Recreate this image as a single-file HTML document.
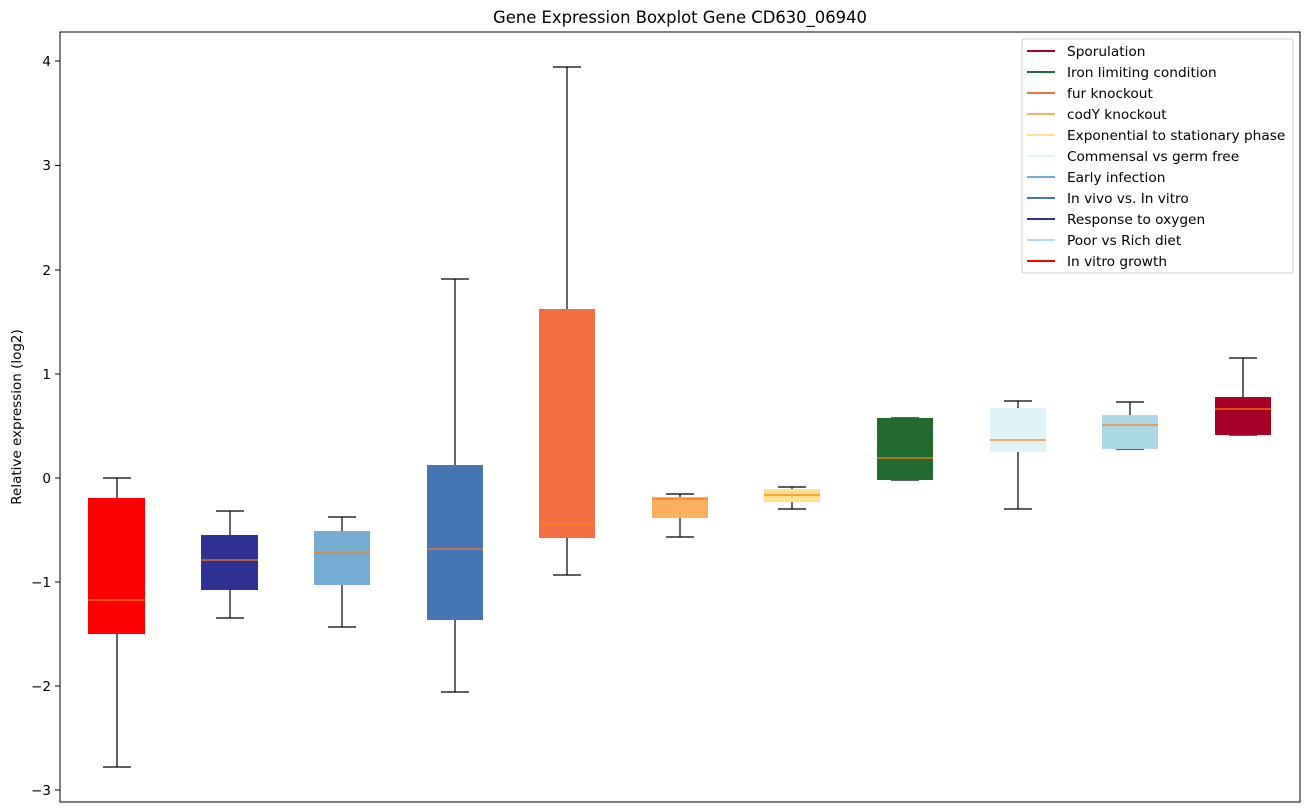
<!DOCTYPE html>
<html><head><meta charset="utf-8"><style>body{margin:0;background:#fff}svg{display:block;font-family:"DejaVu Sans","Liberation Sans",sans-serif}</style></head><body>
<svg width="1309" height="812" xmlns="http://www.w3.org/2000/svg">
<rect width="1309" height="812" fill="#fff"/>
<text x="680" y="23" font-size="16.4" text-anchor="middle">Gene Expression Boxplot Gene CD630_06940</text>
<g font-size="13.5" text-anchor="end">
<g stroke="#000"><line x1="55" x2="60" y1="61" y2="61"/><line x1="55" x2="60" y1="165.5" y2="165.5"/><line x1="55" x2="60" y1="270" y2="270"/><line x1="55" x2="60" y1="374" y2="374"/><line x1="55" x2="60" y1="478" y2="478"/><line x1="55" x2="60" y1="582" y2="582"/><line x1="55" x2="60" y1="686" y2="686"/><line x1="55" x2="60" y1="790" y2="790"/></g>
<text x="51" y="66">4</text><text x="51" y="170">3</text><text x="51" y="275">2</text><text x="51" y="379">1</text><text x="51" y="483">0</text><text x="51" y="587">−1</text><text x="51" y="691">−2</text><text x="51" y="795">−3</text>
</g>
<text transform="translate(21,417) rotate(-90)" font-size="13.5" text-anchor="middle">Relative expression (log2)</text>
<g stroke="#000" stroke-width="1.2">
<path d="M117 478V498M117 634V767M103 478H131M103 767H131"/>
<path d="M230 511V535M230 589V618M216 511H244M216 618H244"/>
<path d="M342 517V531M342 585V627M328 517H356M328 627H356"/>
<path d="M455 279V465M455 620V692M441 279H469M441 692H469"/>
<path d="M567 67V309M567 538V575M553 67H581M553 575H581"/>
<path d="M680 494V497M680 518V537M666 494H694M666 537H694"/>
<path d="M792 487V489M792 502V509M778 487H806M778 509H806"/>
<path d="M891 418H919M891 480H919"/>
<path d="M1018 401V408M1018 452V509M1004 401H1032M1004 509H1032"/>
<path d="M1130 402V415M1116 402H1144M1116 449H1144"/>
<path d="M1243 358V397M1229 358H1257M1229 435H1257"/>
</g>
<g>
<rect x="88" y="498" width="57" height="136" fill="#ff0000"/>
<rect x="201" y="535" width="57" height="55" fill="#2e3192"/>
<rect x="314" y="531" width="56" height="54" fill="#74add1"/>
<rect x="427" y="465" width="56" height="155" fill="#4575b4"/>
<rect x="539" y="309" width="56" height="229" fill="#f46d43"/>
<rect x="652" y="497" width="56" height="21" fill="#fdae61"/>
<rect x="764" y="489" width="56" height="13" fill="#fee090"/>
<rect x="877" y="418" width="56" height="62" fill="#226b2e"/>
<rect x="990" y="408" width="56" height="44" fill="#e0f3f8"/>
<rect x="1102" y="415" width="56" height="34" fill="#add8e6"/>
<rect x="1215" y="397" width="56" height="38" fill="#a50026"/>
</g>
<g stroke="#ff7f0e" stroke-width="1.2">
<path d="M88 600H145M201 560H258M314 553H370M427 549H483M539 524H595M652 499H708M764 495H820M877 458H933M990 440H1046M1102 425H1158M1215 409H1271"/>
</g>
<rect x="60" y="32" width="1240" height="770" fill="none" stroke="#000" stroke-width="1"/>
<rect x="1022" y="39" width="271" height="234" fill="#fff" fill-opacity="0.8" stroke="#ccc" rx="2"/>
<g stroke-width="2">
<line x1="1027" x2="1055" y1="51" y2="51" stroke="#a50026"/>
<line x1="1027" x2="1055" y1="72" y2="72" stroke="#226b2e"/>
<line x1="1027" x2="1055" y1="93" y2="93" stroke="#f46d43"/>
<line x1="1027" x2="1055" y1="114" y2="114" stroke="#fdae61"/>
<line x1="1027" x2="1055" y1="135" y2="135" stroke="#fee090"/>
<line x1="1027" x2="1055" y1="156" y2="156" stroke="#e0f3f8"/>
<line x1="1027" x2="1055" y1="177" y2="177" stroke="#74add1"/>
<line x1="1027" x2="1055" y1="198" y2="198" stroke="#4575b4"/>
<line x1="1027" x2="1055" y1="219" y2="219" stroke="#2e3192"/>
<line x1="1027" x2="1055" y1="240" y2="240" stroke="#add8e6"/>
<line x1="1027" x2="1055" y1="261" y2="261" stroke="#ff0000"/>
</g>
<g font-size="13.7">
<text x="1067" y="56">Sporulation</text>
<text x="1067" y="77">Iron limiting condition</text>
<text x="1067" y="98">fur knockout</text>
<text x="1067" y="119">codY knockout</text>
<text x="1067" y="140">Exponential to stationary phase</text>
<text x="1067" y="161">Commensal vs germ free</text>
<text x="1067" y="182">Early infection</text>
<text x="1067" y="203">In vivo vs. In vitro</text>
<text x="1067" y="224">Response to oxygen</text>
<text x="1067" y="245">Poor vs Rich diet</text>
<text x="1067" y="266">In vitro growth</text>
</g>
</svg>
</body></html>
